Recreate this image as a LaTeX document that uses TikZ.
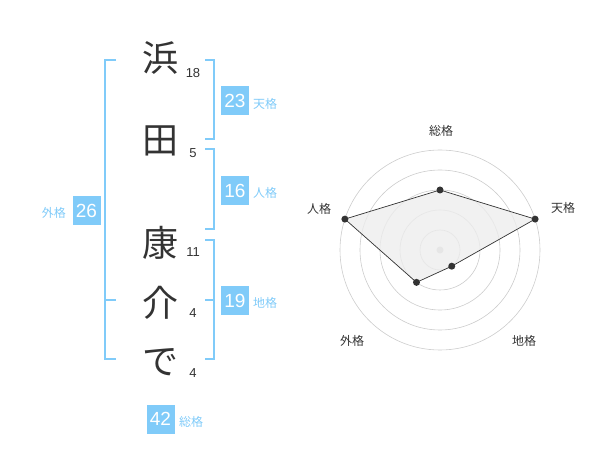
\documentclass[tikz,border=0pt]{standalone}
\usepackage{fontspec}
\setmainfont{Noto Sans CJK JP}
\newfontfamily\numfont{Liberation Sans}
\definecolor{sky}{HTML}{80CBF9}
\definecolor{ink}{HTML}{333333}
\definecolor{ring}{HTML}{CCCCCC}
\begin{document}
\begin{tikzpicture}[x=1pt,y=-1pt,
  kanji/.style={text=ink,font=\fontsize{36}{36}\selectfont,inner sep=0},
  strokes/.style={text=ink,font=\numfont\fontsize{13}{13}\selectfont,inner sep=0},
  bracket/.style={draw=sky,line width=1.6pt},
  valbox/.style={fill=sky,text=white,font=\numfont\fontsize{19}{19}\selectfont,minimum width=28,minimum height=29,inner sep=0},
  kaku/.style={text=sky,font=\fontsize{12}{12}\selectfont,inner sep=0},
  axlabel/.style={text=ink,font=\fontsize{12}{12}\selectfont,inner sep=0},
  vdot/.style={circle,fill=ink,inner sep=0,minimum size=7},
]
\useasboundingbox (0,0) rectangle (600,470);
% characters
\node[kanji] (c1) at (160,58) {浜};
\node[kanji] (c2) at (160,141) {田};
\node[kanji] (c3) at (160,243) {康};
\node[kanji] (c4) at (160,303) {介};
\node[kanji] (c5) at (160,362) {で};
\node[strokes] (n1) at (193,73) {18};
\node[strokes] (n2) at (193,153) {5};
\node[strokes] (n3) at (193,252) {11};
\node[strokes] (n4) at (193,313) {4};
\node[strokes] (n5) at (193,373) {4};
% brackets
\draw[bracket] (205,60) -- (214,60) -- (214,139) -- (205,139);
\draw[bracket] (205,149) -- (214,149) -- (214,229) -- (205,229);
\draw[bracket] (205,240) -- (214,240) -- (214,359) -- (205,359);
\draw[bracket] (205,300) -- (214,300);
\draw[bracket] (116,60) -- (105,60) -- (105,359) -- (116,359);
\draw[bracket] (105,300) -- (116,300);
% values
\node[valbox] (b1) at (235,100.5) {23};
\node[kaku,anchor=west] (l1) at (253,104) {天格};
\node[valbox] (b2) at (235,190.5) {16};
\node[kaku,anchor=west] (l2) at (253,193) {人格};
\node[valbox] (b3) at (235,300.5) {19};
\node[kaku,anchor=west] (l3) at (253,303) {地格};
\node[valbox] (b4) at (86.5,210.5) {26};
\node[kaku,anchor=east] (l4) at (66,213) {外格};
\node[valbox] (b5) at (160.5,419) {42};
\node[kaku,anchor=west] (l5) at (179,422) {総格};
% radar
\coordinate (O) at (440,250);
\foreach \r in {20,40,60,80,100} \draw[ring,line width=0.6pt] (O) circle[radius=\r];
\fill[ring] (O) circle[radius=3.5];
\path (O) ++(-90:60) coordinate (p1);
\path (O) ++(-18:100) coordinate (p2);
\path (O) ++(54:20) coordinate (p3);
\path (O) ++(126:40) coordinate (p4);
\path (O) ++(198:100) coordinate (p5);
\filldraw[fill=black!7,fill opacity=0.8,draw=ink,line width=0.7pt] (p1) -- (p2) -- (p3) -- (p4) -- (p5) -- cycle;
\foreach \p in {p1,p2,p3,p4,p5} \node[vdot] at (\p) {};
\node[axlabel] (a1) at (441,131) {総格};
\node[axlabel] (a2) at (563,208) {天格};
\node[axlabel] (a3) at (524,341) {地格};
\node[axlabel] (a4) at (352,341) {外格};
\node[axlabel] (a5) at (319,209) {人格};
\end{tikzpicture}
\end{document}
